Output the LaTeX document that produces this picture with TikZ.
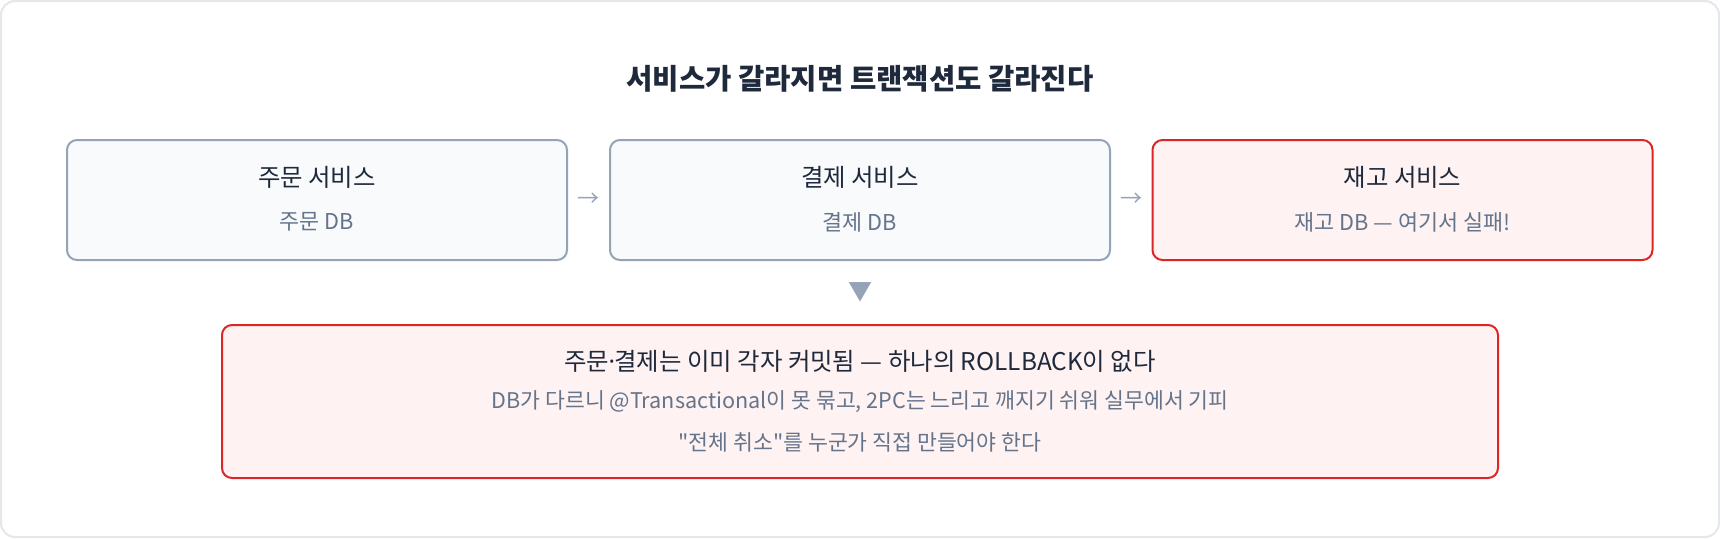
\documentclass[tikz,border=0pt]{standalone}
\usepackage{fontspec}
\setmainfont{Noto Sans CJK KR}[Ligatures=TeXOff]
\usetikzlibrary{positioning}
\usetikzlibrary{calc}

\definecolor{ink}{HTML}{1E293B}
\definecolor{muted}{HTML}{64748B}
\definecolor{slate}{HTML}{94A3B8}
\definecolor{boxfill}{HTML}{F8FAFC}
\definecolor{failred}{HTML}{DC2626}
\definecolor{failfill}{HTML}{FEF2F2}
\definecolor{framegray}{HTML}{E5E7EB}

\tikzset{
    svcbox/.style={draw=slate, fill=boxfill, line width=1pt, rounded corners=5pt,
        minimum width=250pt, minimum height=60pt},
    failbox/.style={svcbox, draw=failred, fill=failfill},
    svctitle/.style={text=ink, font=\fontsize{12.2pt}{15pt}\selectfont, inner sep=0pt},
    svcdb/.style={text=muted, font=\fontsize{10.9pt}{13pt}\selectfont, inner sep=0pt},
    flowarrow/.style={text=slate, font=\fontsize{11pt}{13pt}\selectfont, inner sep=0pt}
}

\begin{document}
\begin{tikzpicture}[x=0.5pt, y=-0.5pt]
    \useasboundingbox (0, 0) rectangle (1720, 538);
    \draw[framegray, fill=white, line width=1pt, rounded corners=7pt] (1, 1) rectangle (1719, 537);

    \node[text=ink, font=\fontsize{14.3pt}{17pt}\selectfont\bfseries] (heading) at (860, 79) {서비스가 갈라지면 트랜잭션도 갈라진다};

    % the three services
    \node[svcbox] (order) at (317, 200) {};
    \node[svcbox] (pay) at (860, 200) {};
    \node[failbox] (stock) at (1402.5, 200) {};

    \node[svctitle] (order-t) at ([yshift=11.5pt]order.center) {주문 서비스};
    \node[svcdb] (order-db) at ([yshift=-11pt]order.center) {주문 DB};
    \node[svctitle] (pay-t) at ([yshift=11.5pt]pay.center) {결제 서비스};
    \node[svcdb] (pay-db) at ([yshift=-11pt]pay.center) {결제 DB};
    \node[svctitle] (stock-t) at ([yshift=11.5pt]stock.center) {재고 서비스};
    \node[svcdb] (stock-db) at ([yshift=-11pt]stock.center) {재고 DB — 여기서 실패!};

    \node[flowarrow] (to-pay) at ($(order.east)!0.5!(pay.west)$) {→};
    \node[flowarrow] (to-stock) at ($(pay.east)!0.5!(stock.west)$) {→};

    % outcome
    \node[failbox, minimum width=638pt, minimum height=76.5pt] (result) at (860, 401.5) {};
    \node[flowarrow, font=\fontsize{12pt}{14pt}\selectfont] (drop) at ($(pay.south)!0.5!(result.north)$) {▼};

    \node[svctitle] (result-t) at ([yshift=20pt]result.center) {주문\kern-0.17em·\kern-0.17em 결제는 이미 각자 커밋됨 — 하나의 ROLLBACK이 없다};
    \node[svcdb, font=\fontsize{10.8pt}{13pt}\selectfont] (result-why) at (result.center) {DB가 다르니 @Transactional이 못 묶고, 2PC는 느리고 깨지기 쉬워 실무에서 기피};
    \node[svcdb, font=\fontsize{10.8pt}{13pt}\selectfont] (result-todo) at ([yshift=-20.5pt]result.center) {"전체 취소"를 누군가 직접 만들어야 한다};
\end{tikzpicture}
\end{document}
